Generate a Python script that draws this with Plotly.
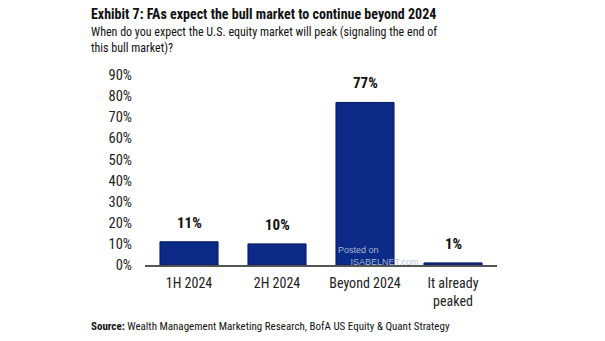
import plotly.graph_objects as go

categories = ["1H 2024", "2H 2024", "Beyond 2024", "It already<br>peaked"]
values = [11, 10, 77, 1]
labels = ["11%", "10%", "77%", "1%"]
yticks = [0, 10, 20, 30, 40, 50, 60, 70, 80, 90]
yticklabels = [f"{v}%" for v in yticks]

FONT = "Liberation Sans Narrow, Roboto Condensed, Arial Narrow, sans-serif"

L, R, T, B = 145, 108, 75, 76
W, H = 605, 341
plot_w = W - L - R
plot_h = H - T - B


def px(x):
    return (x - L) / plot_w


def py(y):
    return (H - y - B) / plot_h


fig = go.Figure()
fig.add_trace(go.Bar(
    x=categories, y=values,
    marker=dict(color="#0c2a88", line=dict(color="#06195e", width=1)),
    width=0.66,
))

annotations = []
for c, v, t in zip(categories, values, labels):
    annotations.append(dict(
        x=c, y=v, xref="x", yref="y", text=f"<b>{t}</b>", showarrow=False,
        xanchor="center", yanchor="bottom", yshift=8,
        font=dict(family=FONT, size=15, color="#111111"),
    ))

annotations += [
    dict(text="<b>Exhibit 7: FAs expect the bull market to continue beyond 2024</b>",
         x=px(89), y=py(14), xref="paper", yref="paper", showarrow=False,
         xanchor="left", yanchor="middle", font=dict(size=14, color="#111111")),
    dict(text="When do you expect the U.S. equity market will peak (signaling the end of<br>this bull market)?",
         x=px(89), y=py(40), xref="paper", yref="paper", showarrow=False,
         xanchor="left", yanchor="middle", align="left",
         font=dict(size=12, color="#111111")),
    dict(text="<b>Source:</b> Wealth Management Marketing Research, BofA US Equity & Quant Strategy",
         x=px(89), y=py(326), xref="paper", yref="paper", showarrow=False,
         xanchor="left", yanchor="middle", font=dict(size=11, color="#111111")),
    dict(text="Posted on<br>     ISABELNET.com", x=px(336), y=py(256), xref="paper", yref="paper",
         showarrow=False, xanchor="left", yanchor="middle", align="left",
         font=dict(family="Arial, sans-serif", size=9, color="rgba(180,192,215,0.95)")),
]

fig.update_layout(
    width=W, height=H,
    margin=dict(l=L, r=R, t=T, b=B),
    paper_bgcolor="white", plot_bgcolor="white",
    showlegend=False,
    font=dict(family=FONT, size=14, color="#222222"),
    xaxis=dict(showgrid=False, showline=True, linecolor="#555555", linewidth=2,
               ticks="", ticklabelstandoff=4, tickfont=dict(size=14, color="#222222")),
    yaxis=dict(range=[0, 90], tickvals=yticks, ticktext=yticklabels,
               showgrid=False, showline=False, zeroline=False, ticks="",
               ticklabelstandoff=12, tickfont=dict(size=14.5, color="#222222")),
    annotations=annotations,
)

fig.write_html("out.html")
